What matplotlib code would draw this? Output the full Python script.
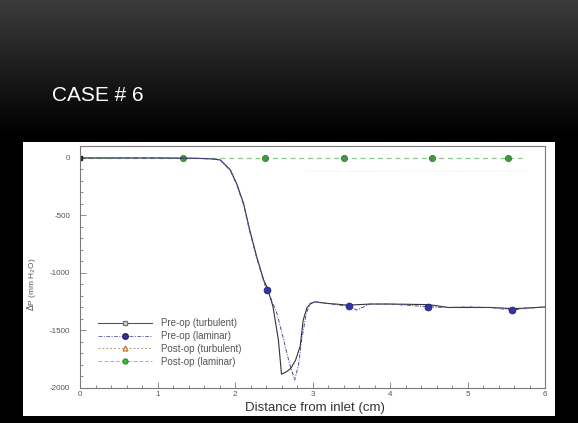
import numpy as np
import matplotlib
matplotlib.use("Agg")
import matplotlib.pyplot as plt
from matplotlib.patches import Rectangle

plt.rcParams["axes.unicode_minus"] = False

# ---------------- data ----------------
title_text = "CASE # 6"
x_label = "Distance from inlet (cm)"
y_label = r"$\Delta$P (mm H$_2$O)"
series_names = ["Pre-op (turbulent)", "Pre-op (laminar)", "Post-op (turbulent)", "Post-op (laminar)"]

x_ticks = [0, 1, 2, 3, 4, 5, 6]
y_ticks = [0, -500, -1000, -1500, -2000]

pre_turb_x = [0, 0.5, 1.0, 1.5, 1.7, 1.81, 1.94, 2.02, 2.11, 2.19, 2.28, 2.37, 2.42, 2.49, 2.56,
              2.60, 2.66, 2.72, 2.78, 2.84, 2.88, 2.93, 2.97, 3.03, 3.18, 3.30, 3.45, 3.60, 3.75,
              4.0, 4.5, 4.75, 5.0, 5.3, 5.6, 6.0]
pre_turb_y = [0, 0, 0, -3, -8, -17, -104, -220, -394, -626, -858, -1061, -1133, -1293, -1583,
              -1880, -1860, -1830, -1760, -1640, -1409, -1300, -1270, -1250, -1264, -1270, -1280,
              -1275, -1270, -1270, -1275, -1300, -1300, -1300, -1310, -1296]

pre_lam_x = [0, 0.5, 1.0, 1.5, 1.7, 1.81, 1.94, 2.02, 2.11, 2.19, 2.28, 2.37, 2.41, 2.47, 2.54,
             2.62, 2.70, 2.77, 2.82, 2.86, 2.92, 2.97, 3.05, 3.20, 3.35, 3.47, 3.57, 3.74, 4.0,
             4.49, 4.70, 5.0, 5.3, 5.57, 5.8, 6.0]
pre_lam_y = [0, 0, 0, -3, -8, -20, -110, -230, -405, -640, -870, -1075, -1148, -1230, -1350,
             -1560, -1780, -1930, -1800, -1583, -1351, -1263, -1255, -1265, -1280, -1287, -1322,
             -1270, -1270, -1293, -1300, -1295, -1300, -1322, -1305, -1296]
pre_lam_marker_x = [2.41, 3.47, 4.49, 5.57]

post_turb_x = [2.9, 3.5, 4.2, 4.9, 5.75]
post_turb_y = [-115, -118, -115, -117, -115]

post_lam_x = [0, 1.33, 2.39, 3.40, 4.54, 5.52, 5.70]
post_lam_y = [0, 0, 0, 0, 0, 0, 0]
post_lam_marker_x = [1.33, 2.39, 3.40, 4.54, 5.52]

# ---------------- figure ----------------
W, H = 578, 423
fig = plt.figure(figsize=(W / 100, H / 100), dpi=100, facecolor="black")

# dark gradient header
bg = fig.add_axes([0, 0, 1, 1])
bg.set_axis_off()
grad = np.zeros((H, 1))
rows = np.arange(H)
grad[:, 0] = np.clip(0.235 * (1 - rows / 135.0), 0, None)
bg.imshow(np.repeat(grad[:, :, None], 3, axis=2), aspect="auto", extent=[0, 1, 0, 1],
          interpolation="bilinear")
bg.set_xlim(0, 1)
bg.set_ylim(0, 1)

# white picture panel
bg.add_patch(Rectangle((23 / W, 1 - 416 / H), (555 - 23) / W, (416 - 142) / H,
                       facecolor="white", edgecolor="none", transform=bg.transAxes))

fig.text(52 / W, 1 - 101 / H, title_text, color="white", fontsize=15,
         family=["Liberation Sans Narrow", "Liberation Sans", "DejaVu Sans"], va="baseline", ha="left")

# main axes
ax = fig.add_axes([80 / W, 1 - 388 / H, (545 - 80) / W, (388 - 146) / H])
ax.set_facecolor("white")
ax.set_xlim(0, 6)
ax.set_ylim(-2000, 104)

gray = "#7a7a7a"
for s in ax.spines.values():
    s.set_color(gray)
    s.set_linewidth(0.8)

ax.plot(post_turb_x, post_turb_y, ls=(0, (2, 2)), color="#f0ede4", lw=0.7)

ax.plot(post_lam_x, post_lam_y, ls=(0, (4, 3)), color="#8cc98c", lw=0.9)
ax.plot(post_lam_marker_x, [0] * len(post_lam_marker_x), ls="none", marker="o", ms=4.5,
        mfc="#3d9a3d", mec="#2f6f2f", mew=0.5)

ax.plot(pre_turb_x, pre_turb_y, color="#333333", lw=0.8)
ax.plot(pre_lam_x, pre_lam_y, ls=(0, (4, 1.5, 1, 1.5)), color="#4a4a9a", lw=0.7)
ax.plot(pre_lam_marker_x, [np.interp(v, pre_lam_x, pre_lam_y) for v in pre_lam_marker_x],
        ls="none", marker="o", ms=5, mfc="#3434a8", mec="#22226a", mew=0.5)
ax.plot([0], [0], ls="none", marker="s", ms=3.5, mfc="#333333", mec="#222222")

# legend proxies
h1, = ax.plot([], [], color="#555555", lw=0.8, marker="s", ms=3, mfc="#dddddd", mec="#777777")
h2, = ax.plot([], [], color="#6a6ab0", lw=0.7, ls=(0, (4, 1.5, 1, 1.5)), marker="o", ms=4,
              mfc="#3434a8", mec="#22226a")
h3, = ax.plot([], [], color="#b0a080", lw=0.7, ls=(0, (2, 2)), marker="^", ms=3.5,
              mfc="white", mec="#c08040")
h4, = ax.plot([], [], color="#8cc98c", lw=0.7, ls=(0, (4, 2)), marker="o", ms=3.5,
              mfc="#3dba3d", mec="#2f8f2f")
leg = ax.legend([h1, h2, h3, h4], series_names, loc="upper left",
                bbox_to_anchor=((98 - 80) / 465, (388 - 318) / 242),
                frameon=False, handlelength=5.6, handletextpad=0.9,
                labelspacing=0.3, borderpad=0, borderaxespad=0,
                prop={"family": "Liberation Sans", "size": 7})
for t in leg.get_texts():
    t.set_color("#555555")

ax.set_xticks(x_ticks)
ax.set_yticks(y_ticks)
ax.set_xticks(np.arange(0, 6.01, 0.2), minor=True)
ax.set_yticks(np.arange(-2000, 1, 100), minor=True)
ax.tick_params(which="both", direction="in", colors=gray, labelcolor="#555555",
               labelsize=5.8, width=0.6)
ax.tick_params(which="major", length=4, pad=2)
ax.tick_params(which="minor", length=2)
ax.tick_params(axis="y", which="major", pad=7)
for lab in ax.get_xticklabels() + ax.get_yticklabels():
    lab.set_family("Liberation Sans")

fig.text(315 / W, 1 - 408 / H, x_label, ha="center", va="center", fontsize=9.5,
         color="#333333", family="Liberation Sans")
fig.text(31 / W, 1 - 284 / H, y_label, ha="center", va="center", rotation=90, fontsize=6,
         color="#555555", family="Liberation Sans")

fig.savefig("out.png", dpi=100, facecolor="black")
